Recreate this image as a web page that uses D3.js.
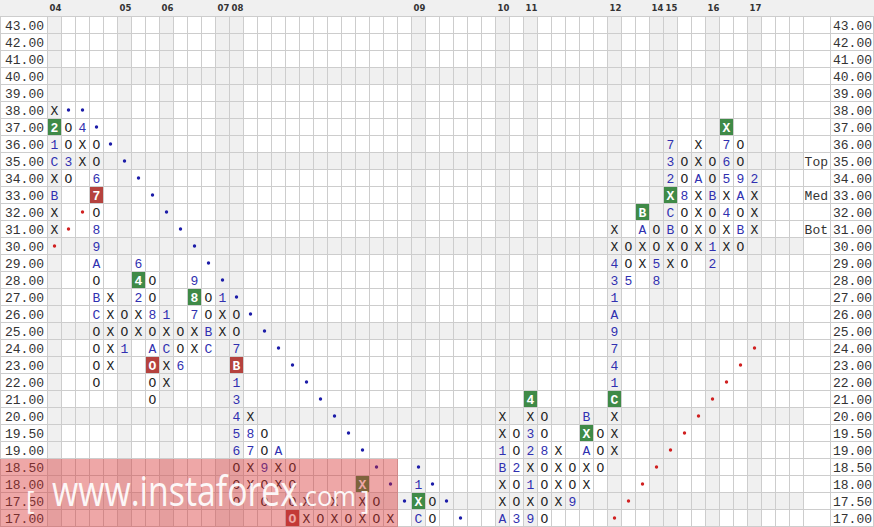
<!DOCTYPE html>
<html><head><meta charset="utf-8">
<script src="https://cdn.jsdelivr.net/npm/d3@7"></script>
<style>body{margin:0;background:#fff}svg{display:block}</style>
</head><body>
<script>
const priceLabels = ["43.00","42.00","41.00","40.00","39.00","38.00","37.00","36.00","35.00","34.00","33.00","32.00","31.00","30.00","29.00","28.00","27.00","26.00","25.00","24.00","23.00","22.00","21.00","20.00","19.50","19.00","18.50","18.00","17.50","17.00"];
const shadedRows = ["40.00","35.00","30.00","25.00","20.00","17.50"];
const yearLabels = ["04","05","06","07","08","09","10","11","12","14","15","16","17"];
const yearCols   = [0,5,8,12,13,26,32,34,40,43,44,47,50];
const numCols = 54;
// cells per row: "col:glyph"; * = falling trend dot, + = rising trend dot
const rowCells = [
 "", "", "", "", "",
 "0:X 1:* 2:*",
 "0:2 1:O 2:4 3:* 48:X",
 "0:1 1:O 2:X 3:O 4:* 44:7 46:X 48:7 49:O",
 "0:C 1:3 2:X 3:O 5:* 44:3 45:O 46:X 47:O 48:6 49:O",
 "0:X 1:O 3:6 6:* 44:2 45:O 46:A 47:O 48:5 49:9 50:2",
 "0:B 3:7 7:* 44:X 45:8 46:X 47:B 48:X 49:A 50:X",
 "0:X 2:+ 3:O 8:* 42:B 44:C 45:O 46:X 47:O 48:4 49:O 50:X",
 "0:X 1:+ 3:8 9:* 40:X 42:A 43:O 44:B 45:O 46:X 47:O 48:X 49:B 50:X",
 "0:+ 3:9 10:* 40:X 41:O 42:X 43:O 44:X 45:O 46:X 47:1 48:X 49:O",
 "3:A 6:6 11:* 40:4 41:O 42:X 43:5 44:X 45:O 47:2",
 "3:O 6:4 7:O 10:9 12:* 40:3 41:5 43:8",
 "3:B 4:X 6:2 7:O 10:8 11:O 12:1 13:* 40:1",
 "3:C 4:X 5:O 6:X 7:8 8:1 10:7 11:O 12:X 13:O 14:* 40:A",
 "3:O 4:X 5:O 6:X 7:O 8:X 9:O 10:X 11:B 12:X 13:O 15:* 40:9",
 "3:O 4:X 5:1 7:A 8:C 9:O 10:X 11:C 13:7 16:* 40:7 50:+",
 "3:O 4:X 7:O 8:X 9:6 13:B 17:* 40:4 49:+",
 "3:O 7:O 8:X 13:1 18:* 40:1 48:+",
 "7:O 13:3 19:* 34:4 40:C 47:+",
 "13:4 14:X 20:* 32:X 34:X 35:O 38:B 40:X 46:+",
 "13:5 14:8 15:O 21:* 32:X 33:O 34:3 35:O 38:X 39:O 40:X 45:+",
 "13:6 14:7 15:O 16:A 22:* 32:1 33:O 34:2 35:8 36:X 38:A 39:O 40:X 44:+",
 "13:O 14:X 15:9 16:X 17:O 23:* 26:* 32:B 33:2 34:X 35:O 36:X 37:O 38:X 39:O 43:+",
 "13:O 14:X 15:O 16:X 17:O 22:X 24:* 26:1 27:* 32:X 33:O 34:1 35:O 36:X 37:O 38:X 42:+",
 "13:O 15:O 17:O 18:X 20:X 22:X 23:O 25:* 26:X 27:O 28:* 32:X 33:O 34:X 35:O 36:X 37:9 41:+",
 "17:O 18:X 19:O 20:X 21:O 22:X 23:O 24:X 26:C 27:O 29:* 32:A 33:3 34:9 35:O 40:+"
];
const greenBoxes = [[0,"37.00"],[48,"37.00"],[44,"33.00"],[42,"32.00"],[6,"28.00"],[10,"27.00"],[34,"21.00"],[40,"21.00"],[38,"19.50"],[22,"18.00"],[26,"17.50"]];
const redBoxes = [[3,"33.00"],[7,"23.00"],[13,"23.00"],[17,"17.00"]];
const levelLabels = ["Top","Med","Bot"];
const levelRows = ["35.00","33.00","31.00"];

const W = 874, H = 527;
const svg = d3.select("body").append("svg").attr("width", W).attr("height", H);
const x = d3.scaleBand().domain(d3.range(numCols)).range([48, 48 + 14*numCols]);
const y = d3.scaleBand().domain(priceLabels).range([17, 527]);
const right = x.range()[1];
const mono = "'Courier New','Liberation Mono',monospace";

// header
svg.append("rect").attr("x",0).attr("y",0).attr("width",W).attr("height",17).attr("fill","#f0f0f0");
// shaded rows / columns
svg.selectAll(".srow").data(shadedRows).join("rect")
  .attr("x", x(0)).attr("y", d => y(d)).attr("width", right - x(0)).attr("height", y.bandwidth()).attr("fill","#f0f0f0");
svg.selectAll(".scol").data(yearCols).join("rect")
  .attr("x", d => x(d)).attr("y", 17).attr("width", x.bandwidth()).attr("height", H-17).attr("fill","#f0f0f0");

// grid
const g = svg.append("g").attr("stroke","#cdcdcd").attr("stroke-width",1).attr("shape-rendering","crispEdges");
priceLabels.forEach(p => g.append("line").attr("x1",0).attr("x2",W).attr("y1",y(p)-0.5).attr("y2",y(p)-0.5));
g.append("line").attr("x1",0).attr("x2",W).attr("y1",H-0.5).attr("y2",H-0.5);
d3.range(numCols+1).forEach(c => {
  const xx = (c < numCols ? x(c) : right) - 0.5;
  g.append("line").attr("x1",xx).attr("x2",xx).attr("y1",17).attr("y2",H);
});
[830.5, 0.5, W-0.5].forEach(xx => g.append("line").attr("x1",xx).attr("x2",xx).attr("y1",17).attr("y2",H));

// year labels
svg.selectAll(".yr").data(yearLabels).join("text")
  .attr("x", (d,i) => x(yearCols[i]) + 1.5).attr("y", 11)
  .attr("font-family","'DejaVu Sans',Verdana,sans-serif").attr("font-weight","bold").attr("font-size",8.5)
  .attr("fill","#333").text(d => d);

// axis labels
svg.selectAll(".ll").data(priceLabels).join("text")
  .attr("x", 44).attr("y", d => y(d) + y.bandwidth()/2 - 0.5).attr("dy","0.35em")
  .attr("text-anchor","end").attr("font-family",mono).attr("font-size",13).attr("fill","#333").text(d => d);
svg.selectAll(".rl").data(priceLabels).join("text")
  .attr("x", 872).attr("y", d => y(d) + y.bandwidth()/2 - 0.5).attr("dy","0.35em")
  .attr("text-anchor","end").attr("font-family",mono).attr("font-size",13).attr("fill","#333").text(d => d);
svg.selectAll(".lv").data(levelLabels).join("text")
  .attr("x", 828).attr("y", (d,i) => y(levelRows[i]) + y.bandwidth()/2 - 0.5).attr("dy","0.35em")
  .attr("text-anchor","end").attr("font-family",mono).attr("font-size",13).attr("fill","#333").text(d => d);

// boxes
svg.selectAll(".gb").data(greenBoxes).join("rect")
  .attr("x", d => x(d[0])).attr("y", d => y(d[1])).attr("width", x.bandwidth()-1).attr("height", y.bandwidth()-1).attr("fill","#3f8a47");
svg.selectAll(".rb").data(redBoxes).join("rect")
  .attr("x", d => x(d[0])).attr("y", d => y(d[1])).attr("width", x.bandwidth()-1).attr("height", y.bandwidth()-1).attr("fill","#b5423e");
const boxed = new Set(greenBoxes.concat(redBoxes).map(d => d[0] + "|" + d[1]));

// cells
const cells = [];
rowCells.forEach((s, i) => {
  if (!s) return;
  s.split(" ").forEach(t => {
    const [c, ch] = t.split(":");
    cells.push({c: +c, p: priceLabels[i], ch});
  });
});
const cx = d => x(d.c) + x.bandwidth()/2 - 0.5;
const cy = d => y(d.p) + y.bandwidth()/2 - 0.5;
svg.selectAll(".dot").data(cells.filter(d => d.ch === "*" || d.ch === "+")).join("circle")
  .attr("cx", cx).attr("cy", cy).attr("r", 1.7)
  .attr("fill", d => d.ch === "*" ? "#1c1ca8" : "#d02020");
svg.selectAll(".gl").data(cells.filter(d => d.ch !== "*" && d.ch !== "+")).join("text")
  .attr("x", cx).attr("y", cy).attr("dy","0.36em").attr("text-anchor","middle")
  .attr("font-family",mono).attr("font-size",13)
  .attr("font-weight", d => boxed.has(d.c + "|" + d.p) ? "bold" : "normal")
  .attr("fill", d => boxed.has(d.c + "|" + d.p) ? "#fff" : (d.ch === "X" || d.ch === "O") ? "#222" : "#3030b0")
  .text(d => d.ch);

// watermark
svg.append("rect").attr("x",0).attr("y", y("18.50")).attr("width", x(24) + x.bandwidth()).attr("height", H - y("18.50"))
  .attr("fill","rgb(214,45,45)").attr("opacity",0.42);
const wm = svg.append("g").attr("fill","#fff").attr("opacity",0.92).attr("font-family","'Open Sans','Noto Sans',sans-serif");
wm.append("text").attr("x",26).attr("y",509).attr("font-size",26).text("[");
wm.append("text").attr("x",52).attr("y",506).attr("font-size",42).attr("textLength",246).attr("lengthAdjust","spacingAndGlyphs").text("www.instaforex");
wm.append("text").attr("x",298).attr("y",506).attr("font-size",28).attr("textLength",58).attr("lengthAdjust","spacingAndGlyphs").text(".com");
wm.append("text").attr("x",361).attr("y",509).attr("font-size",26).text("]");
</script>
</body></html>
